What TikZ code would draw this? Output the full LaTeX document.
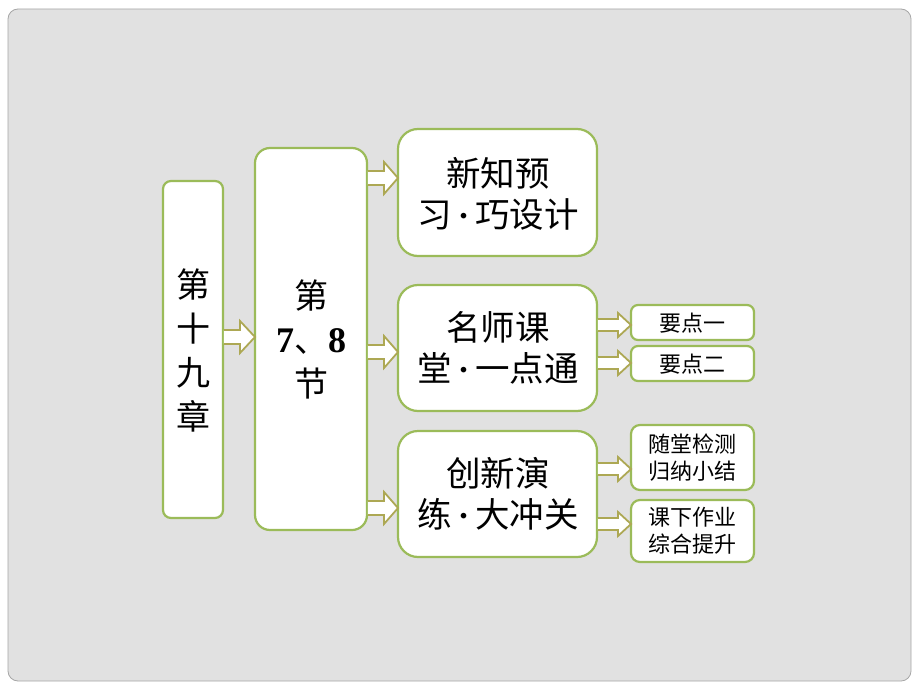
\documentclass[tikz,border=0pt]{standalone}
\usepackage{fontspec}
\newfontfamily\cjk{Noto Sans CJK SC}
\newfontfamily\tnr{Liberation Serif}
\usetikzlibrary{calc}
\definecolor{boxgreen}{HTML}{9BBB59}
\definecolor{arrolive}{HTML}{ADA854}
\definecolor{bggray}{HTML}{E1E1E1}
\newcommand\mdot{{\tnr\bfseries\,·\,}}
\tikzset{
  box/.style={draw=boxgreen, line width=2.2pt, fill=white, inner sep=0pt, font=\cjk},
  bigtext/.style={font=\cjk\fontsize{34}{44}\selectfont, align=center},
  midtext/.style={font=\cjk\fontsize{34.5}{41}\selectfont, align=center},
  smalltext/.style={font=\cjk\fontsize{22}{27}\selectfont, align=center},
  barrow/.style={draw=arrolive, fill=white, line width=1.8pt, line join=miter},
}
% block arrow from #1 to #2 : shaft half-height #3, head half-height #4, head length #5
\newcommand\blockarrow[5]{%
  \filldraw[barrow] ($(#1)+(0.8,-#3)$) -- ($(#2)+(-#5,-#3)$) -- ($(#2)+(-#5,-#4)$) -- (#2) -- ($(#2)+(-#5,#4)$) -- ($(#2)+(-#5,#3)$) -- ($(#1)+(0.8,#3)$);}
\begin{document}
\begin{tikzpicture}[x=1pt,y=-1pt]
\useasboundingbox (0,0) rectangle (920,690);
\fill[white] (0,0) rectangle (920,690);
\draw[draw=gray!70, fill=bggray, line width=0.8pt, rounded corners=10pt] (8,9) rectangle (911,681);
% boxes
\draw[box, rounded corners=8pt] (163,181) rectangle (223,518);
\node[bigtext] (A) at (193,350) {第\\十\\九\\章};
\coordinate (Ae) at (223,337);
\draw[box, rounded corners=15pt] (255,148) rectangle (367,530);
\node[bigtext] (B) at (311,339) {第\\{\tnr\bfseries\fontsize{36}{44}\selectfont 7}、{\tnr\bfseries\fontsize{36}{44}\selectfont 8}\\节};
\coordinate (Bw) at (255,337);
\coordinate (Be1) at (367,178);
\coordinate (Be2) at (367,352);
\coordinate (Be3) at (367,508);
\draw[box, rounded corners=20pt] (398,129) rectangle (597,256);
\node[midtext] (C1) at (498,194) {新知预\\习\mdot 巧设计};
\draw[box, rounded corners=20pt] (398,285) rectangle (597,411);
\node[midtext] (C2) at (498,348) {名师课\\堂\mdot 一点通};
\draw[box, rounded corners=20pt] (398,431) rectangle (597,557);
\node[midtext] (C3) at (498,494) {创新演\\练\mdot 大冲关};
\coordinate (C1w) at (398,178);
\coordinate (C2w) at (398,352);
\coordinate (C3w) at (398,508);
\coordinate (C2e1) at (597,325);
\coordinate (C2e2) at (597,363);
\coordinate (C3e1) at (597,469);
\coordinate (C3e2) at (597,524);
\draw[box, rounded corners=7pt] (631,305) rectangle (754,340);
\node[smalltext] (D1) at (692.5,323) {要点一};
\draw[box, rounded corners=7pt] (631,346) rectangle (754,381);
\node[smalltext] (D2) at (692.5,364) {要点二};
\draw[box, rounded corners=9pt] (631,425) rectangle (754,490);
\node[smalltext] (D3) at (692.5,458) {随堂检测\\归纳小结};
\draw[box, rounded corners=9pt] (631,500) rectangle (754,562);
\node[smalltext] (D4) at (692.5,531) {课下作业\\综合提升};
\coordinate (D1w) at (631,325);
\coordinate (D2w) at (631,363);
\coordinate (D3w) at (631,469);
\coordinate (D4w) at (631,524);
% arrows
\blockarrow{Ae}{Bw}{7}{16}{15}
\blockarrow{Be1}{C1w}{7}{16}{14}
\blockarrow{Be2}{C2w}{7}{16}{14}
\blockarrow{Be3}{C3w}{7}{16}{14}
\blockarrow{C2e1}{D1w}{6}{12}{13}
\blockarrow{C2e2}{D2w}{6}{12}{13}
\blockarrow{C3e1}{D3w}{6}{12}{13}
\blockarrow{C3e2}{D4w}{6}{12}{13}
\end{tikzpicture}
\end{document}
